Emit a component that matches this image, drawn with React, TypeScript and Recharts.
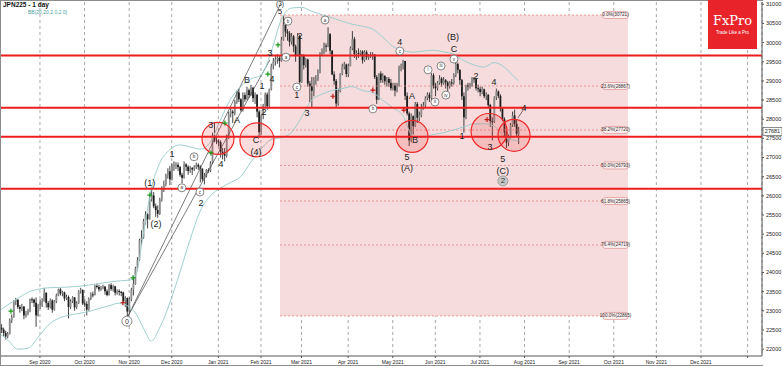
import React from "react";
import {
  Bar,
  CartesianGrid,
  ComposedChart,
  Line,
  ReferenceArea,
  ReferenceDot,
  ReferenceLine,
  XAxis,
  YAxis,
} from "recharts";

// Daily bars [open, high, low, close]. Bar index 1 = 4 Aug 2020, one index per weekday.
const aug2020 = [
  [22200, 22620, 22150, 22560], [22560, 22650, 22420, 22510], [22510, 22560, 22330, 22420],
  [22420, 22480, 22250, 22330], [22330, 22450, 22280, 22400], [22400, 22800, 22380, 22750],
  [22750, 22900, 22680, 22840], [22840, 23280, 22820, 23250], [23250, 23340, 23150, 23290],
  [23290, 23300, 23050, 23100], [23100, 23150, 22950, 23050], [23050, 23180, 22990, 23110],
  [23110, 23120, 22780, 22880], [22880, 23000, 22820, 22920], [22920, 23050, 22880, 22990],
  [22990, 23320, 22960, 23300], [23300, 23350, 23200, 23290], [23290, 23320, 23100, 23210],
  [23210, 23350, 22580, 22880], [22880, 23180, 22850, 23140],
];
const sep2020 = [
  [23140, 23300, 23050, 23140], [23140, 23330, 23100, 23250], [23250, 23600, 23240, 23470],
  [23470, 23480, 23080, 23200], [23200, 23250, 23020, 23090], [23090, 23320, 23060, 23270],
  [23270, 23300, 22950, 23030], [23030, 23280, 23000, 23240], [23240, 23450, 23200, 23400],
  [23400, 23580, 23380, 23560], [23560, 23600, 23400, 23450], [23450, 23520, 23380, 23480],
  [23480, 23500, 23250, 23320], [23320, 23420, 23280, 23360], [23360, 23400, 22800, 23100],
  [23100, 23300, 23050, 23250], [23250, 23380, 23200, 23350], [23350, 23360, 23000, 23090],
  [23090, 23250, 23050, 23200], [23200, 23540, 23180, 23510], [23510, 23600, 23450, 23540],
  [23540, 23560, 23150, 23190],
];
const oct2020 = [
  [23190, 23300, 23100, 23180], [23180, 23250, 22880, 23030], [23030, 23350, 23000, 23310],
  [23310, 23480, 23280, 23430], [23430, 23500, 23350, 23420], [23420, 23680, 23400, 23650],
  [23650, 23700, 23580, 23620], [23620, 23680, 23500, 23560], [23560, 23650, 23520, 23600],
  [23600, 23680, 23560, 23630], [23630, 23650, 23420, 23510], [23510, 23560, 23380, 23410],
  [23410, 23700, 23400, 23670], [23670, 23720, 23520, 23570], [23570, 23680, 23500, 23640],
  [23640, 23650, 23400, 23470], [23470, 23560, 23420, 23520], [23520, 23560, 23400, 23490],
  [23490, 23520, 23380, 23480], [23480, 23500, 23200, 23250], [23250, 23380, 23100, 23330],
  [23330, 23350, 22860, 22980],
];
const nov2020 = [
  [22980, 23350, 22950, 23300], [23300, 23600, 23250, 23550], [23550, 23900, 23400, 23700],
  [23700, 24150, 23680, 24110], [24110, 24400, 24050, 24330], [24330, 24880, 24300, 24840],
  [24840, 25100, 24700, 24910], [24910, 25400, 24880, 25350], [25350, 25600, 25250, 25520],
  [25520, 25550, 25150, 25390], [25390, 25950, 25380, 25910], [25910, 26200, 25850, 26010],
  [26010, 26100, 25680, 25730], [25730, 25800, 25450, 25630], [25630, 25750, 25430, 25530],
  [25530, 25950, 25500, 25900], [25900, 26250, 25850, 26170], [26170, 26400, 26100, 26300],
  [26300, 26580, 26250, 26540], [26540, 26720, 26450, 26640], [26640, 26780, 26280, 26430],
];
const dec2020 = [
  [26430, 26850, 26400, 26790], [26790, 26900, 26650, 26800], [26800, 26880, 26700, 26810],
  [26810, 26870, 26650, 26750], [26750, 26780, 26500, 26550], [26550, 26600, 26330, 26470],
  [26470, 26900, 26450, 26820], [26820, 26850, 26650, 26760], [26760, 26800, 26550, 26650],
  [26650, 26780, 26600, 26730], [26730, 26750, 26550, 26690], [26690, 26800, 26650, 26760],
  [26760, 26870, 26700, 26810], [26810, 26850, 26680, 26760], [26760, 26800, 26350, 26710],
  [26710, 26720, 26380, 26440], [26440, 26600, 26300, 26520], [26520, 26700, 26480, 26670],
  [26670, 26720, 26600, 26660], [26660, 26900, 26620, 26850], [26850, 27650, 26830, 27570],
  [27570, 27900, 27400, 27450], [27450, 27550, 27350, 27420],
];
const jan2021 = [
  [27420, 27480, 27300, 27400], [27400, 27450, 27000, 27150], [27150, 27250, 26950, 27100],
  [27100, 27250, 26900, 27050], [27050, 27600, 27000, 27500], [27500, 28200, 27480, 28140],
  [28140, 28300, 28050, 28200], [28200, 28250, 27900, 28160], [28160, 28500, 28100, 28450],
  [28450, 28750, 28400, 28700], [28700, 28800, 28450, 28520], [28520, 28550, 28200, 28240],
  [28240, 28700, 28200, 28630], [28630, 28700, 28450, 28520], [28520, 28850, 28500, 28760],
  [28760, 28800, 28550, 28630], [28630, 28900, 28600, 28820], [28820, 28850, 28450, 28550],
  [28550, 28700, 28400, 28640], [28640, 28650, 28050, 28200], [28200, 28250, 27550, 27660],
];
const feb2021 = [
  [27660, 28150, 27600, 28090], [28090, 28400, 28000, 28360], [28360, 28700, 28300, 28650],
  [28650, 28700, 28250, 28340], [28340, 28800, 28300, 28780], [28780, 29450, 28750, 29390],
  [29390, 29600, 29300, 29500], [29500, 29650, 29400, 29560], [29560, 29700, 29450, 29600],
  [29600, 29650, 29350, 29520], [29520, 30150, 29500, 30080], [30080, 30714, 30050, 30470],
  [30470, 30550, 30150, 30290], [30290, 30350, 30050, 30240], [30240, 30300, 29900, 30020],
  [30020, 30250, 29950, 30160], [30160, 30200, 29750, 29900], [29900, 29950, 29500, 29670],
  [29670, 30250, 29650, 30170], [30170, 30200, 28850, 28970],
];
const mar2021 = [
  [28970, 29700, 28950, 29660], [29660, 29700, 29300, 29410], [29410, 29600, 29350, 29560],
  [29560, 29580, 28850, 28930], [28930, 29000, 28450, 28860], [28860, 29100, 28300, 28740],
  [28740, 29100, 28600, 29030], [29030, 29150, 28900, 29040], [29040, 29300, 29000, 29210],
  [29210, 29750, 29200, 29720], [29720, 29850, 29650, 29770], [29770, 30000, 29700, 29920],
  [29920, 29980, 29750, 29910], [29910, 30400, 29880, 30220], [30220, 30250, 29700, 29790],
  [29790, 29800, 29150, 29170], [29170, 29250, 28900, 29000], [29000, 29050, 28300, 28410],
  [28410, 28800, 28350, 28730], [28730, 29200, 28700, 29180], [29180, 29450, 29150, 29380],
  [29380, 29500, 29300, 29430], [29430, 29450, 29100, 29180],
];
const apr2021 = [
  [29180, 29450, 29100, 29390], [29390, 29900, 29380, 29850], [29850, 30300, 29800, 30090],
  [30090, 30150, 29600, 29700], [29700, 29800, 29550, 29730], [29730, 29850, 29600, 29710],
  [29710, 29800, 29650, 29770], [29770, 29800, 29450, 29540], [29540, 29800, 29500, 29750],
  [29750, 29800, 29550, 29620], [29620, 29700, 29550, 29640], [29640, 29750, 29600, 29680],
  [29680, 29750, 29550, 29690], [29690, 29700, 29050, 29100], [29100, 29150, 28400, 28510],
  [28510, 29200, 28500, 29190], [29190, 29250, 28950, 29020], [29020, 29200, 28950, 29130],
  [29130, 29150, 28900, 28990], [28990, 29100, 28850, 29050], [29050, 29100, 28850, 28950],
  [28950, 29050, 28750, 28810],
];
const may2021 = [
  [28810, 28950, 28750, 28880], [28880, 28950, 28600, 28750], [28750, 28950, 28700, 28900],
  [28900, 29400, 28850, 29330], [29330, 29450, 29250, 29360], [29360, 29550, 29300, 29520],
  [29520, 29520, 28500, 28610], [28610, 28700, 28100, 28150], [28150, 28200, 27300, 27450],
  [27450, 28150, 27400, 28080], [28080, 28100, 27600, 27820], [27820, 28450, 27800, 28400],
  [28400, 28450, 27900, 28040], [28040, 28200, 27950, 28100], [28100, 28400, 28050, 28320],
  [28320, 28450, 28250, 28360], [28360, 28600, 28300, 28550], [28550, 28700, 28500, 28640],
  [28640, 28700, 28450, 28550], [28550, 29200, 28500, 29150], [29150, 29200, 28800, 28860],
];
const jun2021 = [
  [28860, 28950, 28600, 28810], [28810, 29000, 28750, 28950], [28950, 29150, 28900, 29060],
  [29060, 29100, 28850, 28940], [28940, 29100, 28900, 29020], [29020, 29050, 28800, 28960],
  [28960, 29000, 28700, 28860], [28860, 29000, 28800, 28960], [28960, 29050, 28850, 28950],
  [28950, 29200, 28900, 29160], [29160, 29500, 29100, 29440], [29440, 29480, 29200, 29290],
  [29290, 29300, 28900, 29020], [29020, 29050, 28500, 28600], [28600, 28700, 27650, 28050],
  [28050, 28900, 28000, 28880], [28880, 28950, 28750, 28870], [28870, 28950, 28800, 28880],
  [28880, 29100, 28850, 29070], [29070, 29100, 28950, 29050], [29050, 29050, 28750, 28810],
  [28810, 28900, 28700, 28790],
];
const jul2021 = [
  [28790, 28850, 28600, 28710], [28710, 28850, 28650, 28780], [28780, 28800, 28550, 28600],
  [28600, 28700, 28500, 28640], [28640, 28650, 28300, 28370], [28370, 28400, 27800, 27950],
  [27950, 28050, 27450, 27940], [27940, 28600, 27900, 28570], [28570, 28800, 28500, 28720],
  [28720, 28750, 28550, 28610], [28610, 28650, 28200, 28280], [28280, 28300, 27950, 28000],
  [28000, 28050, 27550, 27650], [27650, 27700, 27250, 27390], [27390, 27600, 27300, 27550],
  [27550, 27900, 27500, 27850], [27850, 28200, 27800, 28100], [28100, 28250, 27800, 27880],
  [27880, 27980, 27550, 27620], [27620, 27800, 27350, 27681],
];
const MONTHS = [aug2020, sep2020, oct2020, nov2020, dec2020, jan2021, feb2021, mar2021, apr2021, may2021, jun2021, jul2021];

// Bollinger band BB(20,2) at a few bars
const BB_IDX = [1, 5, 10, 15, 20, 25, 30, 35, 40, 45, 50, 55, 60, 65, 68, 72, 76, 80, 85, 90, 95, 100, 105, 110, 115, 120, 125, 130, 135, 140, 145, 150, 155, 160, 165, 170, 175, 180, 185, 190, 195, 200, 205, 210, 215, 220, 225, 230, 235, 240, 245, 250, 255, 257];
const BB_UPPER = [23000, 23150, 23320, 23480, 23560, 23600, 23610, 23620, 23640, 23670, 23710, 23750, 23780, 23800, 23900, 25000, 26200, 26850, 27200, 27330, 27280, 27220, 27400, 27980, 28520, 28850, 29050, 29150, 29750, 30600, 30900, 30920, 30820, 30730, 30650, 30560, 30480, 30430, 30350, 30150, 29900, 29800, 29750, 29780, 29800, 29760, 29700, 29530, 29420, 29360, 29480, 29360, 29100, 29000];
const BB_LOWER = [22400, 22250, 22000, 22020, 22300, 22620, 22800, 22880, 22930, 22980, 23060, 23130, 23200, 23100, 22950, 22550, 22210, 22550, 23200, 24000, 24850, 25600, 26000, 26200, 26350, 26500, 26880, 27220, 27470, 27520, 27650, 28050, 28500, 28650, 28750, 28800, 28850, 28750, 28700, 28500, 28300, 28100, 27550, 27550, 27600, 27650, 27720, 27800, 27880, 27880, 27820, 27550, 27450, 27450];

const MONTH_TICKS = [21, 43, 65, 86, 109, 130, 150, 173, 195, 216, 238, 260, 282, 304, 325, 347, 370];
const MONTH_LABELS = ["Sep 2020", "Oct 2020", "Nov 2020", "Dec 2020", "Jan 2021", "Feb 2021", "Mar 2021", "Apr 2021", "May 2021", "Jun 2021", "Jul 2021", "Aug 2021", "Sep 2021", "Oct 2021", "Nov 2021", "Dec 2021", ""];
const PRICE_TICKS = [22000, 22500, 23000, 23500, 24000, 24500, 25000, 25500, 26000, 26500, 27000, 27500, 28000, 28500, 29000, 29500, 30000, 30500, 31000];

const LEVELS = [29665, 28300, 27545, 26183];
const LAST_PRICE = 27681;

const FIB_PCT = ["0.0%", "23.6%", "38.2%", "50.0%", "61.8%", "76.4%", "100.0%"];
const FIB_VAL = [30721, 28867, 27720, 26793, 25865, 24719, 22865];
const FIB_FROM = 139.4;
const FIB_LABEL_AT = 298.7;
const FIB_TO = 311;

// [bar index, price, radius px]
const CIRCLES = [
  [108.8, 27500, 16], [128, 27460, 17], [204.5, 27550, 16], [242.5, 27680, 18], [254.8, 27580, 16],
];
// [bar index, price, text, font size]
const WAVES = [
  [75.2, 26340, "(1)", 9], [78.2, 25270, "(2)", 9], [86.1, 27090, "1", 9], [100.4, 25810, "2", 9],
  [105.3, 27850, "3", 9], [110.3, 26830, "4", 9], [118.2, 27980, "A", 9], [123.1, 29020, "B", 9],
  [127.5, 27460, "C", 9], [127.5, 27150, "(4)", 9], [130.5, 28870, "1", 9], [131.5, 28190, "2", 9],
  [134.4, 29730, "3", 9], [135.4, 29050, "4", 9], [139.4, 30825, "5", 8], [139.4, 31018, "(3)", 6.5],
  [149.2, 30170, "2", 9], [147.7, 28630, "1", 9], [152.7, 28160, "3", 9], [198.5, 30020, "4", 9],
  [204.5, 28610, "A", 9], [206, 27460, "B", 9], [202, 27010, "5", 9], [202, 26730, "(A)", 9],
  [224.7, 30150, "(B)", 9], [225.2, 29830, "C", 9], [229.1, 27560, "1", 9], [236, 29130, "2", 9],
  [244.9, 28970, "4", 9], [242.9, 27280, "3", 9], [249.3, 26960, "5", 9], [249.3, 26650, "(C)", 9],
  [259.7, 28290, "4", 9],
];
const CIRCLED = [
  [63.9, 22730, "0"], [91, 26210, "a"], [97, 27020, "b"], [99.9, 26100, "c"],
  [143.3, 30560, "b"], [142.3, 29620, "a"], [147.7, 28840, "c"], [161.6, 30590, "a"],
  [185.2, 28270, "b"], [198.5, 29780, "c"], [212.4, 29290, "i"], [215.8, 28450, "ii"],
  [218.8, 29390, "iii"], [221.2, 28630, "iv"], [225.2, 29570, "v"],
];
const MINOR_TWO = [249.3, 26390, "2"];
const PLUS_GREEN = [[6.7, 22990], [66.9, 23860], [75.2, 26020], [105.3, 27120], [112.2, 27900], [133.4, 29180], [138.4, 29940]];
const PLUS_RED = [[61.9, 23210], [165.5, 28600], [185.2, 28760], [200.5, 28240], [241.5, 27990]];
// trend lines from wave (0): to the top of wave (3) and to the top of wave 3
const TRENDS = [
  [[64.4, 22860], [139.6, 31000]],
  [[64.4, 22860], [134.4, 29550]],
];
const TAIL = [[256.7, 28030], [259.3, 28240]];

const rows: any[] = MONTHS.flat().map(([o, h, l, c], k) => ({ i: k + 1, o, h, l, c, range: [l, h] }));
BB_IDX.forEach((ix, k) => {
  rows[ix - 1].bu = BB_UPPER[k];
  rows[ix - 1].bl = BB_LOWER[k];
});

const FONT = "Liberation Sans, Arial, sans-serif";

function Candle(props: any) {
  const { x, y, width, height, payload } = props;
  if (!payload || x == null || y == null) return null;
  const { o, h, l, c } = payload;
  const top = Math.min(y, y + height);
  const hh = Math.abs(height);
  const cx = x + width / 2;
  const k = h === l ? 0 : hh / (h - l);
  const yo = top + (h - o) * k;
  const yc = top + (h - c) * k;
  const by = Math.min(yo, yc);
  const bh = Math.max(1, Math.abs(yc - yo));
  return (
    <g>
      <line x1={cx} x2={cx} y1={top} y2={top + hh} stroke="#2e2e2e" strokeWidth={0.9} />
      <rect x={cx - 0.9} y={by} width={1.8} height={bh} fill={c >= o ? "#8e8e8e" : "#1e1e1e"} />
    </g>
  );
}

export default function App() {
  return (
    <div style={{ position: "absolute", left: 0, top: 0, width: 782, height: 366, background: "#fff", overflow: "hidden" }}>
      <ComposedChart width={782} height={366} data={rows} margin={{ top: 2, right: 0, bottom: 0, left: 0 }}>
        <ReferenceArea x1={FIB_FROM} x2={FIB_TO} y1={FIB_VAL[6]} y2={FIB_VAL[0]} fill="#f6dcdc" fillOpacity={1} stroke="none" />
        <CartesianGrid horizontal={false} stroke="#a9a9a9" strokeDasharray="3 3" />
        <XAxis
          dataKey="i"
          type="number"
          domain={[1.3, 377.1]}
          allowDataOverflow
          ticks={MONTH_TICKS}
          interval={0}
          tickFormatter={(v) => MONTH_LABELS[MONTH_TICKS.indexOf(v)] ?? ""}
          height={10}
          tickSize={2}
          stroke="#555"
          tick={{ fontSize: 5, fill: "#222", fontFamily: FONT }}
        />
        <YAxis
          orientation="right"
          width={20}
          domain={[21820, 31060]}
          allowDataOverflow
          ticks={PRICE_TICKS}
          interval={0}
          tickSize={2}
          stroke="#555"
          tick={{ fontSize: 5.5, fill: "#222", fontFamily: FONT }}
        />
        {FIB_VAL.map((v) => (
          <ReferenceLine key={"f" + v} segment={[{ x: FIB_FROM, y: v }, { x: FIB_LABEL_AT, y: v }]} stroke="#e07a7a" strokeWidth={0.7} strokeDasharray="2 2" />
        ))}
        {TRENDS.map(([a, b], k) => (
          <ReferenceLine key={"t" + k} segment={[{ x: a[0], y: a[1] }, { x: b[0], y: b[1] }]} stroke="#444" strokeWidth={0.7} ifOverflow="visible" />
        ))}
        <ReferenceLine segment={[{ x: TAIL[0][0], y: TAIL[0][1] }, { x: TAIL[1][0], y: TAIL[1][1] }]} stroke="#333" strokeWidth={0.7} />
        <Line dataKey="bu" type="monotone" connectNulls dot={false} stroke="#9fcfcf" strokeWidth={1} isAnimationActive={false} />
        <Line dataKey="bl" type="monotone" connectNulls dot={false} stroke="#9fcfcf" strokeWidth={1} isAnimationActive={false} />
        <Bar dataKey="range" isAnimationActive={false} shape={(p: any) => <Candle {...p} />} />
        {LEVELS.map((v) => (
          <ReferenceLine key={"l" + v} y={v} stroke="#ee1d1d" strokeWidth={2} />
        ))}
        {CIRCLES.map(([i, p, r], k) => (
          <ReferenceDot key={"c" + k} x={i} y={p} r={r} fill="rgba(238,40,40,0.16)" stroke="#ee2a2a" strokeWidth={1.2} ifOverflow="visible" />
        ))}
        {PLUS_GREEN.map(([i, p], k) => (
          <ReferenceDot key={"g" + k} x={i} y={p} ifOverflow="visible" shape={(s: any) => (
            <path d={`M${s.cx - 2.5},${s.cy}H${s.cx + 2.5}M${s.cx},${s.cy - 2.5}V${s.cy + 2.5}`} stroke="#1a9a1a" strokeWidth={1.2} />
          )} />
        ))}
        {PLUS_RED.map(([i, p], k) => (
          <ReferenceDot key={"r" + k} x={i} y={p} ifOverflow="visible" shape={(s: any) => (
            <path d={`M${s.cx - 2.5},${s.cy}H${s.cx + 2.5}M${s.cx},${s.cy - 2.5}V${s.cy + 2.5}`} stroke="#c01818" strokeWidth={1.2} />
          )} />
        ))}
        {WAVES.map(([i, p, t, fs], k) => (
          <ReferenceDot key={"w" + k} x={i as number} y={p as number} ifOverflow="visible" shape={(s: any) => (
            <text x={s.cx} y={s.cy} textAnchor="middle" dominantBaseline="central" fontSize={fs as number} fill="#222" fontFamily={FONT}>{t}</text>
          )} />
        ))}
        {CIRCLED.map(([i, p, t], k) => (
          <ReferenceDot key={"o" + k} x={i as number} y={p as number} ifOverflow="visible" shape={(s: any) => (
            <g>
              <circle cx={s.cx} cy={s.cy} r={t === "0" ? 5 : 4} fill="#fff" stroke="#555" strokeWidth={0.7} />
              <text x={s.cx} y={s.cy} textAnchor="middle" dominantBaseline="central" fontSize={t === "0" ? 7 : 4.5} fill="#333" fontFamily={FONT}>{t}</text>
            </g>
          )} />
        ))}
        <ReferenceDot x={MINOR_TWO[0] as number} y={MINOR_TWO[1] as number} ifOverflow="visible" shape={(s: any) => (
          <g>
            <circle cx={s.cx} cy={s.cy} r={5} fill="#c8c8c8" stroke="#888" strokeWidth={0.7} />
            <text x={s.cx} y={s.cy} textAnchor="middle" dominantBaseline="central" fontSize={8} fill="#333" fontFamily={FONT}>{MINOR_TWO[2]}</text>
          </g>
        )} />
        {FIB_VAL.map((v, k) => (
          <ReferenceDot key={"fl" + v} x={FIB_LABEL_AT} y={v} ifOverflow="visible" shape={(s: any) => (
            <g>
              <rect x={s.cx} y={s.cy - 3.5} width={25} height={7} rx={2} fill="#fbeeee" stroke="#d98585" strokeWidth={0.6} />
              <text x={s.cx + 12.5} y={s.cy} textAnchor="middle" dominantBaseline="central" fontSize={4.6} fill="#333" fontFamily={FONT}>
                {`${FIB_PCT[k]}(${v})`}
              </text>
            </g>
          )} />
        ))}
        <ReferenceDot x={377.1} y={LAST_PRICE} ifOverflow="visible" shape={(s: any) => (
          <g>
            <rect x={s.cx + 1} y={s.cy - 4} width={19} height={8} fill="#fff" stroke="#444" strokeWidth={0.6} />
            <text x={s.cx + 10.5} y={s.cy} textAnchor="middle" dominantBaseline="central" fontSize={5.5} fill="#222" fontFamily={FONT}>{LAST_PRICE}</text>
          </g>
        )} />
      </ComposedChart>
      <div style={{ position: "absolute", left: 0, top: 0, width: 762, height: 364, borderTop: "1px solid #8c8c8c", borderLeft: "1px solid #8c8c8c", borderBottom: "1px solid #8c8c8c", pointerEvents: "none" }} />
      <div style={{ position: "absolute", left: 3, top: 1, fontFamily: FONT, fontSize: 6.5, fontWeight: "bold", color: "#111" }}>JPN225 - 1 day</div>
      <div style={{ position: "absolute", left: 28, top: 9, fontFamily: FONT, fontSize: 5, color: "#4c9c9c" }}>BB(20,20,2.0,2.0)</div>
      <div style={{ position: "absolute", left: 708, top: 0, width: 49, height: 49, background: "#e8242a", color: "#fff", textAlign: "center" }}>
        <div style={{ fontFamily: "DejaVu Serif, Liberation Serif, serif", fontSize: 13, marginTop: 14, lineHeight: "14px" }}>FxPro</div>
        <div style={{ fontFamily: FONT, fontSize: 4.5, marginTop: 2 }}>Trade Like a Pro</div>
      </div>
    </div>
  );
}
